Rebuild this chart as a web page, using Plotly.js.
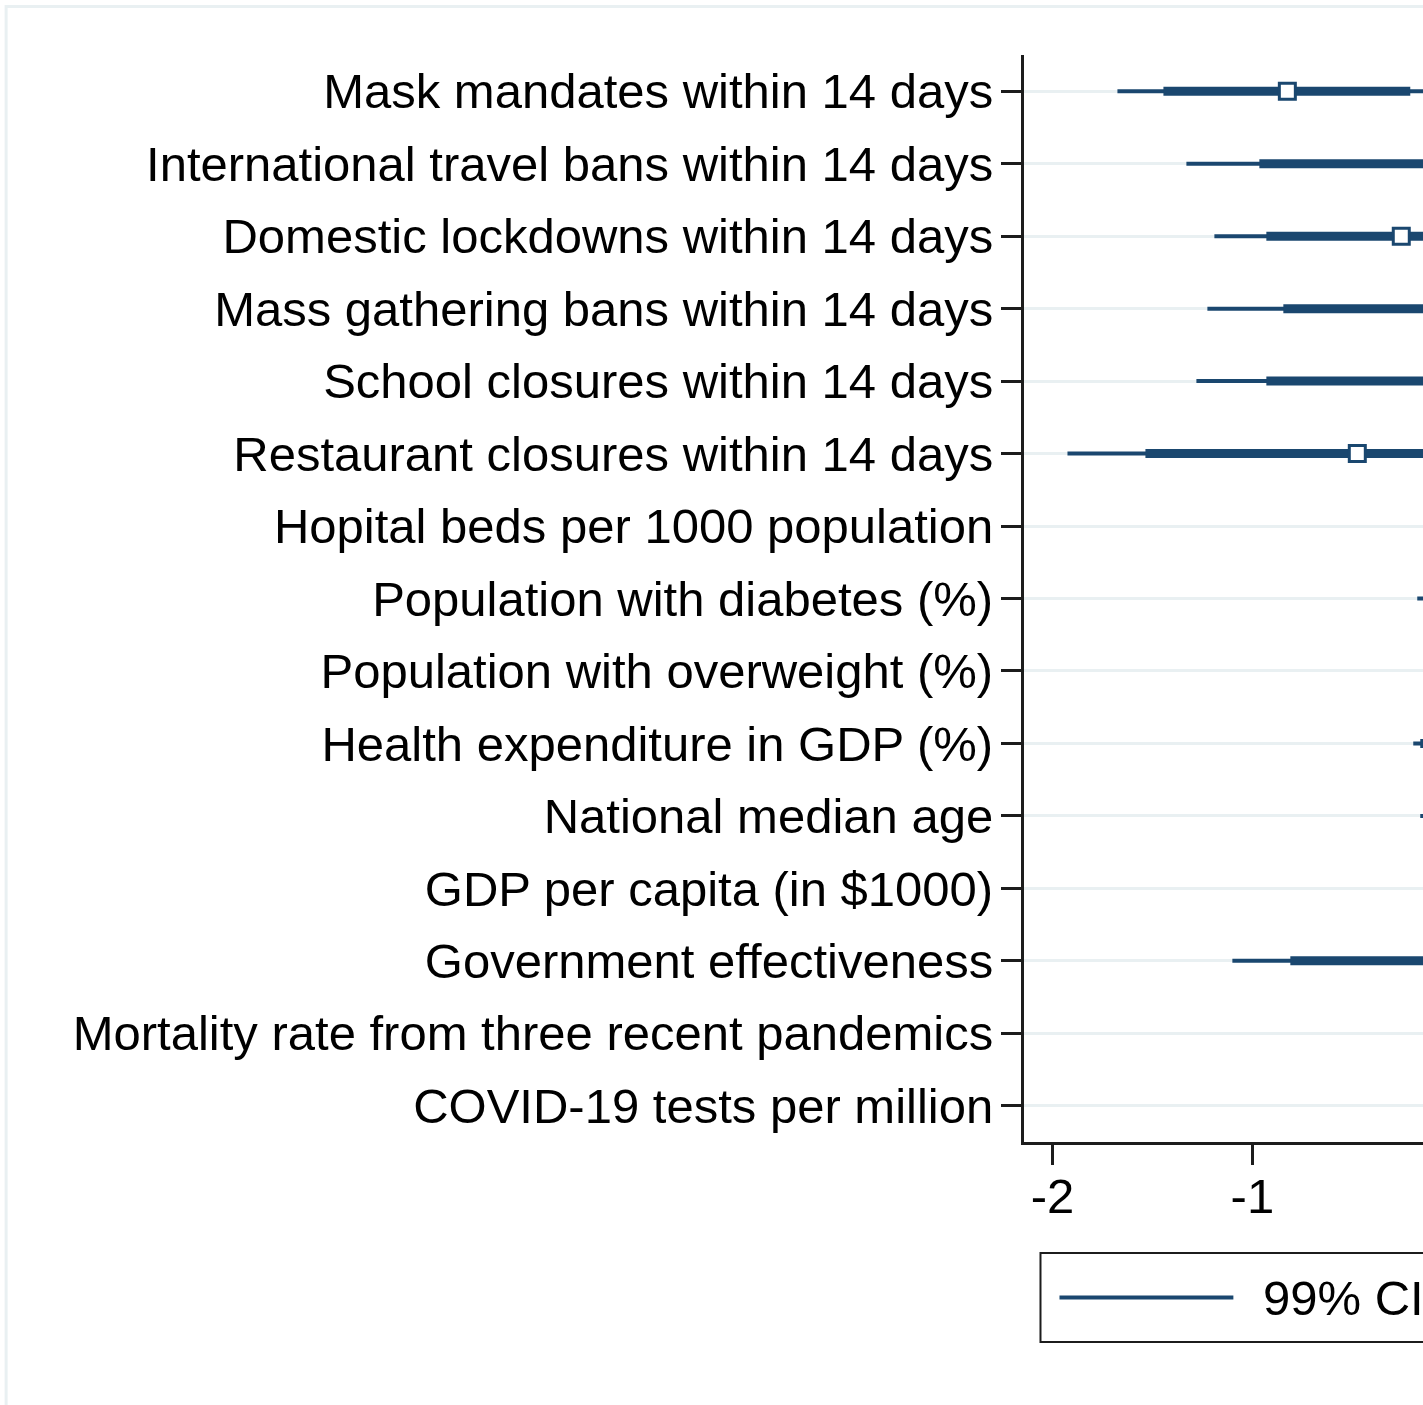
<!DOCTYPE html>
<html>
<head>
<meta charset="utf-8">
<script src="https://cdn.plot.ly/plotly-3.0.1.min.js"></script>
<style>
  html, body { margin: 0; padding: 0; background: #fff; overflow: hidden; }
  #chart { width: 1913px; height: 1405px; }
</style>
</head>
<body>
<div id="chart"></div>
<script>
// Regressors, listed top to bottom
const labels = [
  "Mask mandates within 14 days",
  "International travel bans within 14 days",
  "Domestic lockdowns within 14 days",
  "Mass gathering bans within 14 days",
  "School closures within 14 days",
  "Restaurant closures within 14 days",
  "Hopital beds per 1000 population",
  "Population with diabetes (%)",
  "Population with overweight (%)",
  "Health expenditure in GDP (%)",
  "National median age",
  "GDP per capita (in $1000)",
  "Government effectiveness",
  "Mortality rate from three recent pandemics",
  "COVID-19 tests per million"
];

// Point estimates and confidence bounds
const estimate = [-0.825, 0.02, -0.255, 0.18, 0.02, -0.475, -0.02, -0.05, 0.01, -0.06, -0.05, 0.00, -0.03, 0.02, 0.00];
const lo95 = [-1.445, -0.965, -0.93, -0.845, -0.93, -1.535, -0.10, -0.13, -0.08, -0.16, -0.13, -0.06, -0.81, -0.09, -0.07];
const hi95 = [-0.21, 1.005, 0.42, 1.205, 0.97, 0.585, 0.06, 0.03, 0.10, 0.04, 0.03, 0.06, 0.75, 0.13, 0.07];
const lo99 = [-1.675, -1.33, -1.19, -1.225, -1.28, -1.925, -0.13, -0.175, -0.12, -0.195, -0.16, -0.08, -1.10, -0.12, -0.10];
const hi99 = [0.03, 1.37, 0.68, 1.585, 1.32, 0.975, 0.09, 0.07, 0.14, 0.075, 0.06, 0.08, 1.04, 0.175, 0.10];

const xTicks = [-2, -1];
const legendNames = ["99% CI"];

const navy = "#1a476f";
const axisInk = "#1c1c1c";
const rows = labels.map((_, i) => i + 1);

// Build broken segment paths (one segment per row)
function segments(lo, hi) {
  const xs = [], ys = [];
  rows.forEach((r, i) => {
    xs.push(lo[i], hi[i], null);
    ys.push(r, r, null);
  });
  return { x: xs, y: ys };
}

const s99 = segments(lo99, hi99);
const s95 = segments(lo95, hi95);

const traces = [
  {
    type: "scatter", mode: "lines", name: "99% CI",
    x: s99.x, y: s99.y, connectgaps: false,
    line: { color: navy, width: 4 },
    hoverinfo: "skip", showlegend: false
  },
  {
    type: "scatter", mode: "lines", name: "95% CI",
    x: s95.x, y: s95.y, connectgaps: false,
    line: { color: navy, width: 9 },
    hoverinfo: "skip", showlegend: false
  },
  {
    type: "scatter", mode: "markers", name: "Estimate",
    x: estimate, y: rows, showlegend: false,
    marker: { symbol: "square", size: 16, color: "#ffffff", line: { color: navy, width: 3 } }
  }
];

const W = 1913, H = 1405;
const mL = 1023.5, mT = 55, mB = 263;
const xRange = [-2.1425, 2.0];
const plotW = (xRange[1] - xRange[0]) * 200;
const mR = W - mL - plotW;
const plotH = H - mT - mB;

// pixel -> paper helpers for the legend frame
const px = v => (v - mL) / plotW;
const py = v => (mT + plotH - v) / plotH;

const font = { family: "Liberation Sans, Arial, sans-serif", size: 49, color: "#000" };

const legendTop = 1253, legendBottom = 1342, legendLeft = 1040;
const legendMid = (legendTop + legendBottom) / 2;

const shapes = [
  {
    // outer graph-region outline
    type: "rect", xref: "paper", yref: "paper",
    x0: px(5), x1: px(W - 5), y0: py(H + 50), y1: py(6.5),
    line: { color: "#e9f0f2", width: 3 },
    fillcolor: "rgba(0,0,0,0)", layer: "below"
  },
  {
    // legend frame
    type: "rect", xref: "paper", yref: "paper",
    x0: px(legendLeft), x1: px(legendLeft + 520), y0: py(legendBottom), y1: py(legendTop),
    line: { color: axisInk, width: 2 },
    fillcolor: "#ffffff", layer: "above"
  },
  {
    // legend key: thin line (99% CI)
    type: "line", xref: "paper", yref: "paper",
    x0: px(legendLeft + 19), x1: px(legendLeft + 193), y0: py(legendMid), y1: py(legendMid),
    line: { color: navy, width: 4 }, layer: "above"
  }
];

const annotations = [
  {
    xref: "paper", yref: "paper",
    x: px(legendLeft + 221), y: py(legendMid),
    xanchor: "left", yanchor: "middle",
    text: legendNames[0], showarrow: false,
    font: font
  }
];

const layout = {
  width: W, height: H,
  margin: { l: mL, r: mR, t: mT, b: mB, pad: 0 },
  paper_bgcolor: "#ffffff",
  plot_bgcolor: "#ffffff",
  font: font,
  showlegend: false,
  xaxis: {
    range: xRange,
    tickmode: "array", tickvals: xTicks, ticktext: xTicks.map(String),
    showgrid: false, zeroline: false,
    showline: true, linecolor: axisInk, linewidth: 3,
    ticks: "outside", ticklen: 20, tickwidth: 3, tickcolor: axisInk,
    ticklabelstandoff: -11,
    tickfont: font,
    fixedrange: true
  },
  yaxis: {
    range: [15.5, 0.5],
    tickmode: "array", tickvals: rows, ticktext: labels,
    showgrid: true, gridcolor: "#e9f0f2", gridwidth: 3,
    zeroline: false,
    showline: true, linecolor: axisInk, linewidth: 3,
    ticks: "outside", ticklen: 20, tickwidth: 3, tickcolor: axisInk,
    ticklabelstandoff: -2,
    tickfont: font,
    fixedrange: true
  },
  shapes: shapes,
  annotations: annotations
};

Plotly.newPlot("chart", traces, layout, { staticPlot: true, displayModeBar: false });
</script>
</body>
</html>
